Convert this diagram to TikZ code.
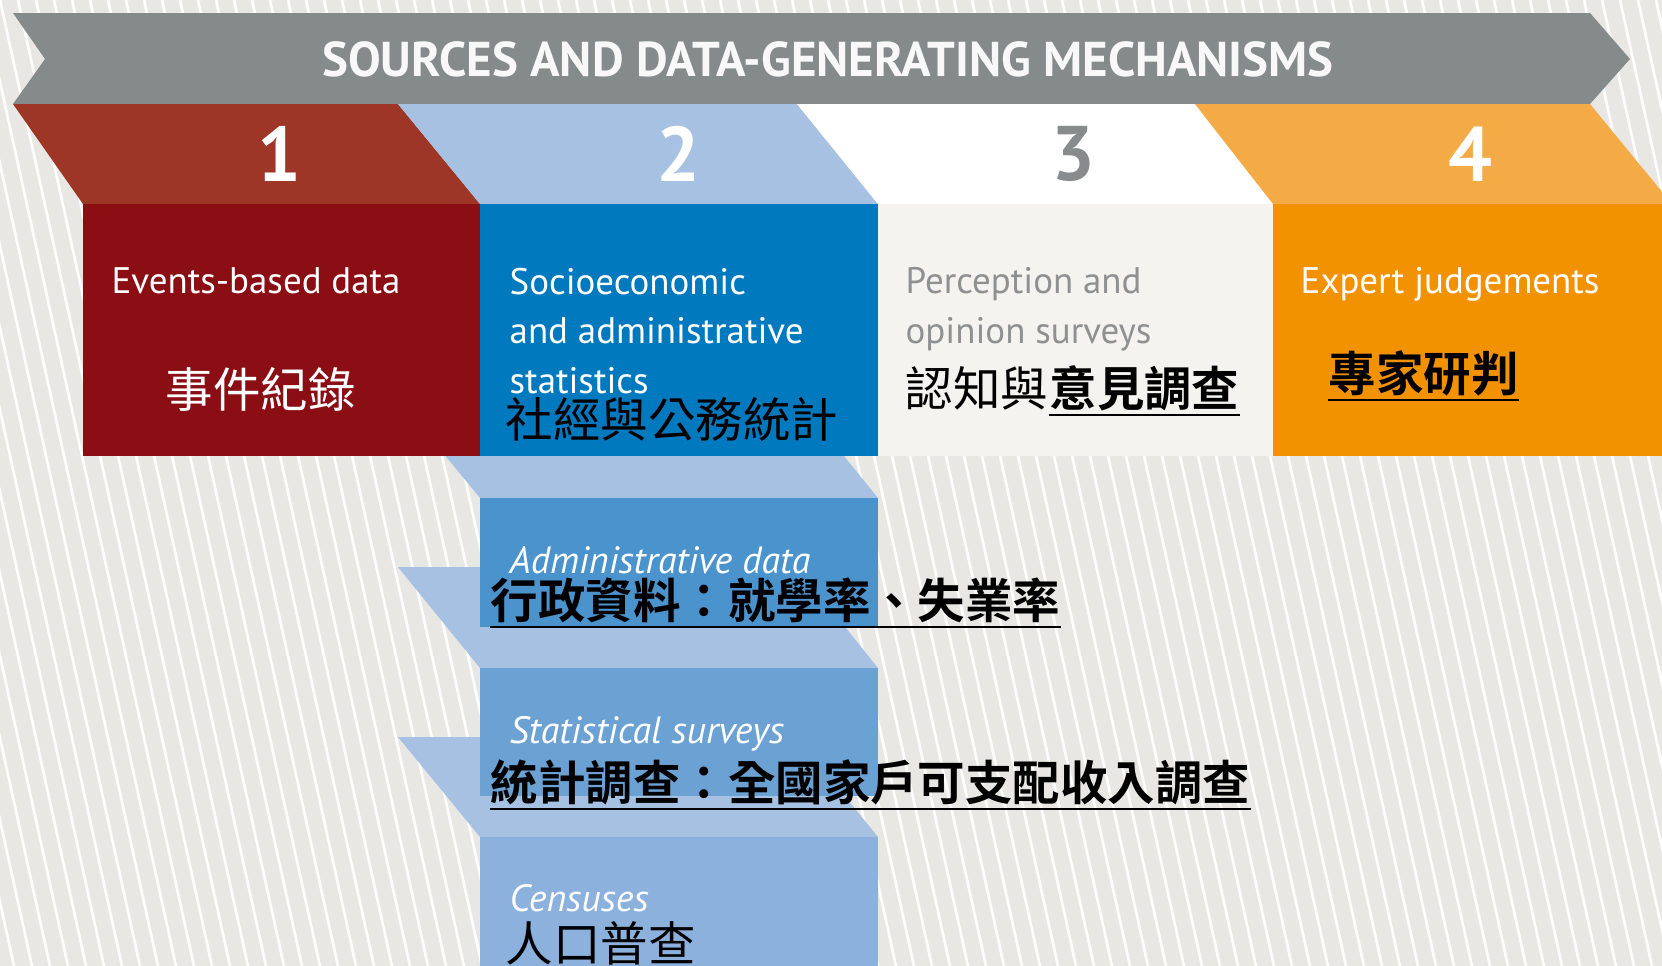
\documentclass[tikz,border=0pt]{standalone}
\usepackage{fontspec}
\setmainfont{PT Sans}
\newfontfamily\cjk{Noto Sans CJK TC}[BoldFont={Noto Sans CJK TC Bold}]
\usetikzlibrary{positioning}

\definecolor{bggray}{HTML}{E8E7E3}
\definecolor{bannergray}{HTML}{858B8A}
\definecolor{tabred}{HTML}{9E3627}
\definecolor{boxred}{HTML}{8A0E14}
\definecolor{tabblue}{HTML}{A6C1E2}
\definecolor{boxblue}{HTML}{0079BF}
\definecolor{boxwhite}{HTML}{F4F3EF}
\definecolor{taborange}{HTML}{F4AA45}
\definecolor{boxorange}{HTML}{F39200}
\definecolor{admblue}{HTML}{4B93CD}
\definecolor{statblue}{HTML}{6BA1D3}
\definecolor{censblue}{HTML}{8BB1DC}
\definecolor{numgray}{HTML}{878B8C}
\definecolor{headgray}{HTML}{8E9091}

\tikzset{
  num/.style={font=\fontsize{22}{22}\selectfont\bfseries, text=white},
  head/.style={anchor=north west, inner sep=0pt, align=left, text=white, font=\fontsize{10.5}{14.2}\selectfont},
  kind/.style={anchor=base west, inner sep=0pt, text=white, font=\fontsize{10.8}{12}\selectfont\itshape},
  zh/.style={anchor=west, inner sep=0pt, font=\cjk\fontsize{13.5}{16}\selectfont},
  zhb/.style={anchor=west, inner sep=0pt, font=\cjk\fontsize{13.5}{16}\selectfont\bfseries},
  uline/.style={line width=0.6pt}
}

\begin{document}
\begin{tikzpicture}[x=0.01cm, y=-0.01cm]
    \useasboundingbox (0,0) rectangle (1662,966);
    % striped background
    \fill[bggray] (0,0) rectangle (1662,966);
    \begin{scope}
        \clip (0,0) rectangle (1662,966);
        \foreach \s in {-12,...,92}
            \draw[white!92!bggray, line width=0.75pt] (\s*18,0) -- (\s*18+212,966);
    \end{scope}

    % lower steps of column 2
    \fill[tabblue] (398,398) -- (797,398) -- (878,498) -- (480,498) -- cycle;
    \fill[tabblue] (398,567) -- (797,567) -- (878,668) -- (480,668) -- cycle;
    \fill[tabblue] (398,737) -- (797,737) -- (878,837) -- (480,837) -- cycle;
    \fill[admblue] (480,498) rectangle (878,627);
    \fill[statblue] (480,668) rectangle (878,796);
    \fill[censblue] (480,837) rectangle (878,966);

    % banner
    \fill[bannergray] (13,13) -- (1590,13) -- (1630,59) -- (1590,104) -- (13,104) -- (45,59) -- cycle;
    \node (title) at (828,59) [text=white!94!bannergray, font=\fontsize{13.9}{14}\selectfont\bfseries] {SOURCES AND DATA-GENERATING MECHANISMS};

    % number tabs
    \fill[tabred] (13,104) -- (398,104) -- (480,204) -- (83,204) -- cycle;
    \fill[tabblue] (398,104) -- (797,104) -- (878,204) -- (480,204) -- cycle;
    \fill[white] (797,104) -- (1195,104) -- (1273,204) -- (878,204) -- cycle;
    \fill[taborange] (1195,104) -- (1590,104) -- (1672,204) -- (1273,204) -- cycle;

    % boxes
    \fill[boxred] (83,204) rectangle (480,456);
    \fill[boxblue] (480,204) rectangle (878,456);
    \fill[boxwhite] (878,204) rectangle (1273,456);
    \fill[boxorange] (1273,204) rectangle (1662,456);

    \node (n1) at (279,154) [num] {1};
    \node (n2) at (678,154) [num] {2};
    \node (n3) at (1073,154) [num, text=numgray] {3};
    \node (n4) at (1470,154) [num] {4};

    \node (hev) at (111,267) [head] {Events-based data};
    \node (hsoc) at (509,267) [head] {Socioeconomic\\and administrative\\statistics};
    \node (hper) at (905,267) [head, text=headgray] {Perception and\\opinion surveys};
    \node (hexp) at (1300,267) [head] {Expert judgements};

    \node (zhev) at (165,389) [zh, text=white] {事件紀錄};
    \node (zhsoc) at (505,419) [zh] {社經與公務統計};
    \node (zhcog) at (905,388) [zh] {認知與};
    \node (zhop) [zhb, right=0pt of zhcog] {意見調查};
    \node (zhexp) at (1328,373) [zhb] {專家研判};

    \node (kadm) at (509,573) [kind] {Administrative data};
    \node (zhadm) at (490,600) [zhb] {行政資料：就學率、失業率};
    \node (kstat) at (509,743) [kind] {Statistical surveys};
    \node (zhstat) at (490,782) [zhb] {統計調查：全國家戶可支配收入調查};
    \node (kcen) at (509,911) [kind] {Censuses};
    \node (zhcen) at (505,943) [zh] {人口普查};

    % underlines
    \draw[uline] ([yshift=-1pt]zhop.south west) -- ([yshift=-1pt]zhop.south east);
    \draw[uline] ([yshift=-1pt]zhexp.south west) -- ([yshift=-1pt]zhexp.south east);
    \draw[uline] ([yshift=-1pt]zhadm.south west) -- ([yshift=-1pt]zhadm.south east);
    \draw[uline] ([yshift=-1pt]zhstat.south west) -- ([yshift=-1pt]zhstat.south east);
\end{tikzpicture}
\end{document}
